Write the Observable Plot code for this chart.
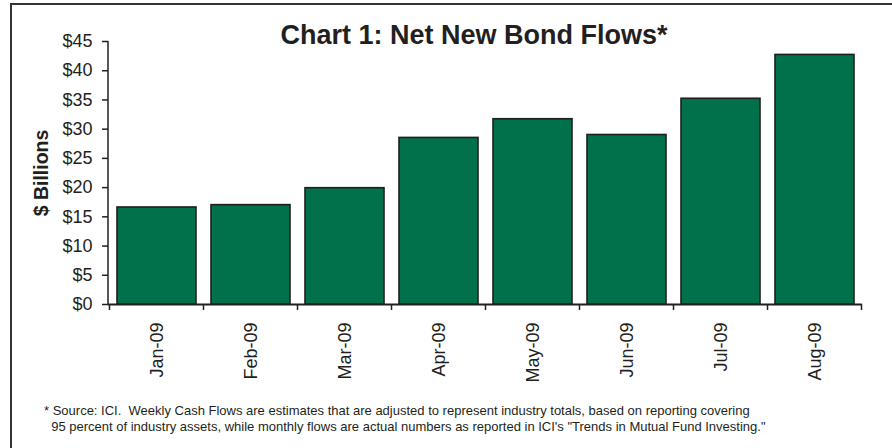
<!DOCTYPE html>
<html>
<head>
<meta charset="utf-8">
<script src="https://cdn.jsdelivr.net/npm/d3@7"></script>
<script src="https://cdn.jsdelivr.net/npm/@observablehq/plot@0.6"></script>
<style>
  html, body { margin: 0; padding: 0; background: #fff; width: 892px; height: 448px; overflow: hidden; }
  #frame { position: absolute; left: 10px; top: 3px; width: 1000px; height: 600px;
           border-left: 2px solid #333; border-top: 2px solid #333; box-sizing: border-box; }
  #title { position: absolute; left: 0; width: 948px; top: 22px; text-align: center; line-height: 27px;
           font-family: "Liberation Sans", Arial, sans-serif; font-weight: bold; font-size: 27px; color: #231f20; }
  #chart { position: absolute; left: 0; top: 0; }
  #note { position: absolute; left: 44px; top: 403px; font-family: "Liberation Sans Narrow", "Arial Narrow", "Liberation Sans", sans-serif;
          font-size: 13px; line-height: 15.5px; color: #231f20; white-space: pre; }
</style>
</head>
<body>
<div id="frame"></div>
<div id="chart"></div>
<div id="title"></div>
<div id="note"></div>
<script>
const titleText = "Chart 1: Net New Bond Flows*";
const months = ["Jan-09", "Feb-09", "Mar-09", "Apr-09", "May-09", "Jun-09", "Jul-09", "Aug-09"];
const flows = [16.6, 17.0, 19.9, 28.5, 31.7, 29.0, 35.2, 42.7];
const yTicks = [0, 5, 10, 15, 20, 25, 30, 35, 40, 45];
const yLabel = "$ Billions";
const noteLines = [
  "* Source: ICI.  Weekly Cash Flows are estimates that are adjusted to represent industry totals, based on reporting covering",
  "  95 percent of industry assets, while monthly flows are actual numbers as reported in ICI's \"Trends in Mutual Fund Investing.\""
];

const data = months.map((m, i) => ({month: m, value: flows[i]}));
const font = "Liberation Sans, Arial, sans-serif";
const ink = "#231f20";

const chart = Plot.plot({
  width: 892,
  height: 390,
  marginLeft: 108,
  marginRight: 30,
  marginTop: 41,
  marginBottom: 86,
  style: {fontFamily: font, color: ink, background: "transparent", overflow: "visible"},
  x: {domain: months, paddingInner: 0.16, paddingOuter: 0.08, label: null},
  y: {domain: [0, 45], label: null},
  marks: [
    Plot.barY(data, {x: "month", y: "value", fill: "#00714a", stroke: "#1e1e1e", strokeWidth: 1.6}),
    Plot.axisY({ticks: yTicks, tickFormat: d => "$" + d, tickSize: 6, tickPadding: 10, fontSize: 18, label: null, stroke: ink, strokeWidth: 1.5}),
    Plot.axisX({tickRotate: -90, tickSize: 0, tickPadding: 18, fontSize: 18, label: null}),
    Plot.ruleY([0], {stroke: ink, strokeWidth: 2}),
    Plot.text([yLabel], {frameAnchor: "left", textAnchor: "middle", rotate: -90, dx: -67, fontWeight: "bold", fontSize: 19.5, fill: ink})
  ]
});

// y-axis line and category boundary ticks derived from the chart's scales
const xs = chart.scale("x");
const ys = chart.scale("y");
const svg = d3.select(chart);
const g = svg.append("g").attr("stroke", ink).attr("stroke-width", 1.5);
g.append("line")
  .attr("x1", xs.range[0]).attr("x2", xs.range[0])
  .attr("y1", ys.apply(0)).attr("y2", ys.apply(45));
const bounds = months.map(m => xs.apply(m) - (xs.step - xs.bandwidth) / 2);
bounds.push(xs.apply(months[months.length - 1]) + xs.bandwidth + (xs.step - xs.bandwidth) / 2);
g.selectAll(".bt").data(bounds).join("line")
  .attr("x1", d => d).attr("x2", d => d)
  .attr("y1", ys.apply(0)).attr("y2", ys.apply(0) + 6);

document.getElementById("chart").appendChild(chart);
document.getElementById("title").textContent = titleText;
document.getElementById("note").textContent = noteLines.join("\n");
</script>
</body>
</html>
